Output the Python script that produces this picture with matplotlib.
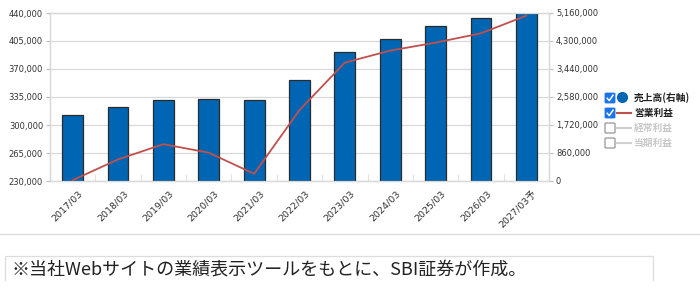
import matplotlib
matplotlib.use("Agg")
import matplotlib.pyplot as plt
from matplotlib.patches import FancyBboxPatch
from matplotlib.lines import Line2D
import numpy as np

plt.rcParams['font.family'] = ['DejaVu Sans', 'Noto Sans CJK JP']

# ---- data ----
categories = ['2017/03', '2018/03', '2019/03', '2020/03', '2021/03', '2022/03',
              '2023/03', '2024/03', '2025/03', '2026/03', '2027/03予']
sales = [2036000, 2282000, 2488000, 2528000, 2488000, 3102000,
         3972000, 4371000, 4761000, 4997000, 5150000]
op_profit = [231000, 257000, 276000, 265400, 239000, 318700,
             378000, 393000, 403000, 414600, 436700]
left_ticks = [230000, 265000, 300000, 335000, 370000, 405000, 440000]
right_ticks = [0, 860000, 1720000, 2580000, 3440000, 4300000, 5160000]
legend_labels = ['売上高(右軸)', '営業利益', '経常利益', '当期利益']
note_text = '※当社Webサイトの業績表示ツールをもとに、SBI証券が作成。'

W, H = 700, 293
fig = plt.figure(figsize=(W / 100, H / 100), dpi=100)
fig.patch.set_facecolor('white')

def fx(x):
    return x / W

def fy(y):
    return 1 - y / H

ax = fig.add_axes([fx(50), fy(181), fx(549) - fx(50), fy(13) - fy(181)])
ax2 = ax.twinx()
x = np.arange(len(categories))

grid_c = '#d9d9d9'
tick_c = '#333333'
tfs = 6.0

# bars on right axis
ax.bar(x, sales, width=0.46, color='#0066b3', edgecolor='#2b2b2b', linewidth=0.9, zorder=3)
ax.set_ylim(right_ticks[0], right_ticks[-1])
ax.set_xlim(-0.5, len(categories) - 0.5)
ax.set_yticks(right_ticks)
ax.set_yticklabels([f'{v:,}' for v in right_ticks])
ax.yaxis.grid(True, color=grid_c, linewidth=0.9, zorder=0)
ax.set_axisbelow(True)
ax.yaxis.set_ticks_position('right')
ax.yaxis.set_label_position('right')

# category ticks at boundaries (inside, up)
ax.set_xticks(np.arange(len(categories) + 1) - 0.5)
ax.set_xticklabels([])
ax.tick_params(axis='x', direction='in', length=5, color='#e0e0e0', width=0.8)
ax.tick_params(axis='y', direction='out', length=3, color='#bbbbbb', labelsize=tfs,
               labelcolor=tick_c, pad=2, left=False, labelleft=False,
               right=True, labelright=True)
for tick, lab in zip(x, categories):
    ax.text(tick + 0.12, -0.045, lab, transform=ax.get_xaxis_transform(),
            rotation=45, ha='right', va='top', rotation_mode='anchor',
            fontsize=6.8, color=tick_c)

for s in ['left', 'right', 'bottom', 'top']:
    ax.spines[s].set_color(grid_c)
    ax.spines[s].set_linewidth(0.9)

# line on left axis
ax2.plot(x, op_profit, color='#c0504d', linewidth=1.3, zorder=5)
ax2.set_ylim(left_ticks[0], left_ticks[-1])
ax2.set_yticks(left_ticks)
ax2.set_yticklabels([f'{v:,}' for v in left_ticks])
ax2.yaxis.set_ticks_position('left')
ax2.yaxis.set_label_position('left')
ax2.tick_params(axis='y', direction='out', length=3, color='#bbbbbb', labelsize=tfs,
                labelcolor=tick_c, pad=2, left=True, labelleft=True,
                right=False, labelright=False)
for s in ['left', 'right', 'bottom', 'top']:
    ax2.spines[s].set_color(grid_c)
    ax2.spines[s].set_linewidth(0.9)

# ---- legend (custom) ----
rows_y = [98, 113, 128, 143]
box_x = 605
bs = 10
checked = [True, True, False, False]
for i, (yy, lab) in enumerate(zip(rows_y, legend_labels)):
    if checked[i]:
        p = FancyBboxPatch((fx(box_x), fy(yy + bs / 2)), bs / W, bs / H,
                           boxstyle='round,pad=0,rounding_size=0.002',
                           transform=fig.transFigure, facecolor='#1a73e8',
                           edgecolor='#1a73e8', linewidth=0.6)
        fig.add_artist(p)
        fig.add_artist(Line2D([fx(box_x + 2.2), fx(box_x + 4.3), fx(box_x + 8)],
                              [fy(yy + 0.3), fy(yy + 2.6), fy(yy - 2.8)],
                              transform=fig.transFigure, color='white', linewidth=1.1))
    else:
        p = FancyBboxPatch((fx(box_x), fy(yy + bs / 2)), bs / W, bs / H,
                           boxstyle='round,pad=0,rounding_size=0.002',
                           transform=fig.transFigure, facecolor='white',
                           edgecolor='#8a8a8a', linewidth=0.8)
        fig.add_artist(p)
    if i == 0:
        fig.add_artist(Line2D([fx(622)], [fy(yy - 1)], marker='o', markersize=7,
                              color='#0066b3', transform=fig.transFigure))
        tc = '#222222'
    elif i == 1:
        fig.add_artist(Line2D([fx(617), fx(631)], [fy(yy), fy(yy)],
                              color='#c0504d', linewidth=1.5, transform=fig.transFigure))
        tc = '#222222'
    else:
        fig.add_artist(Line2D([fx(617), fx(631)], [fy(yy), fy(yy)],
                              color='#d0d0d0', linewidth=1.5, transform=fig.transFigure))
        tc = '#c8c8c8'
    fig.text(fx(634), fy(yy), lab, fontsize=7, fontweight='bold', color=tc,
             va='center', ha='left', family=['Noto Sans CJK JP', 'DejaVu Sans'])

# ---- separator and note ----
fig.add_artist(Line2D([0, 1], [fy(234), fy(234)], color='#dddddd', linewidth=1.0,
                      transform=fig.transFigure))
fig.add_artist(Line2D([fx(5), fx(5), fx(653), fx(653)],
                      [fy(280), fy(256), fy(256), fy(280)], color='#dddddd',
                      linewidth=0.9, transform=fig.transFigure))
fig.text(fx(12), fy(270), note_text, fontsize=13, color='#222222', va='center', ha='left',
         family=['Noto Sans CJK JP', 'DejaVu Sans'])

fig.savefig('out.png', dpi=100, facecolor='white')
